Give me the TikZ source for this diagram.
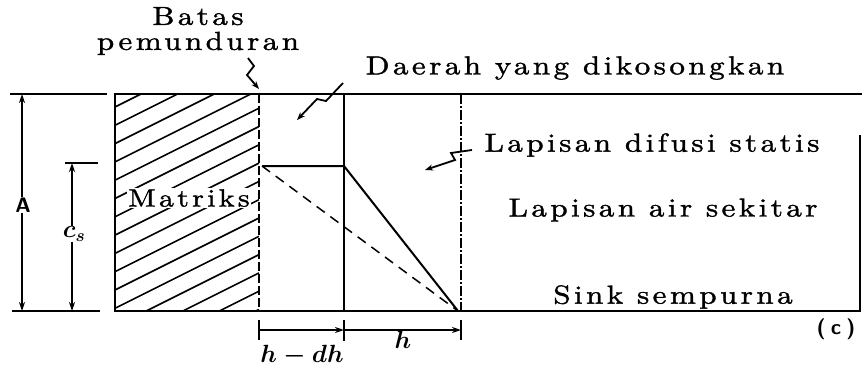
\documentclass[tikz,border=0pt]{standalone}
\usepackage{amsmath}
\usepackage{fontspec}
\newfontfamily\spacedfont{lmroman10-regular}[Extension=.otf,LetterSpace=13,FakeBold=1.3,FakeStretch=1.2]
\newfontfamily\scalesans{lmsans10-bold}[Extension=.otf,LetterSpace=25]
\usetikzlibrary{arrows.meta}
\begin{document}
\begin{tikzpicture}[x=1pt,y=-1pt,line width=2pt,
	lbl/.style={font=\fontsize{26}{25}\spacedfont,inner sep=1pt},
	dimlbl/.style={font=\fontsize{21}{23}\scalesans,fill=white,inner sep=1pt},
	mathlbl/.style={font=\fontsize{23}{25}\selectfont,inner sep=1pt},
	hatch/.style={line width=1.6pt},
	squig/.style={line width=1.8pt,-{Stealth[length=8pt,width=6pt]}},
	dim/.style={line width=1.8pt,{Stealth[length=9pt,width=6pt]}-{Stealth[length=9pt,width=6pt]}}]
	\useasboundingbox(0,0)rectangle(862,368);
	% hatched matrix
	\begin{scope}
		\clip(115,94)rectangle(259,311);
		\foreach \k in {0,...,15}
			\draw[hatch](115,107+18.3*\k)--++(144,-72);
	\end{scope}
	\draw(259,94)--(115,94)--(115,311)--(259,311);
	\draw[dash pattern=on 9pt off 3pt](259,94)--(259,311);
	% layers
	\draw(259,94)--(862,94);
	\draw(259,311)--(860,311)--(860,135);
	\draw(344,94)--(344,311);
	\draw[dash pattern=on 10pt off 2pt on 2pt off 2pt](461,94)--(461,311);
	% concentration profile
	\coordinate(top)at(262,166);
	\coordinate(knee)at(344,166);
	\coordinate(sink)at(458,311);
	\draw(top)--(knee)--(sink);
	\draw[line width=1.5pt,dash pattern=on 10pt off 7pt](top)--(sink);
	\node[lbl,fill=white,font=\fontsize{25}{25}\spacedfont](mat)at(189,198){Matriks};
	% left scales
	\draw(10,94)--(107,94);
	\draw(12,311)--(100,311);
	\draw(65,163)--(98,163);
	\draw[dim](22,94)--(22,311);
	\draw[dim](72,163)--(72,311);
	\node[dimlbl](A)at(23,205){A};
	\node[mathlbl,font=\fontsize{25}{27}\selectfont,fill=white](cs)at(74,234){$\boldsymbol{c_s}$};
	% bottom scale
	\draw[line width=1.8pt](259,320)--(259,340) (344,320)--(344,341) (461,320)--(461,340);
	\draw[line width=1.8pt,-{Stealth[length=9pt,width=6pt]}](259,330)--(344,330);
	\draw[line width=1.8pt,-{Stealth[length=9pt,width=6pt]}](344,330)--(461,330);
	\node[mathlbl](hdh)at(302,356){$\boldsymbol{h - dh}$};
	\node[mathlbl](h)at(403,340){$\boldsymbol{h}$};
	\node[dimlbl,fill=none](c)at(836,329){(c)};
	% labels
	\node[lbl,align=center](batas)at(198,31){Batas\\pemunduran};
	\node[lbl](daerah)at(575,68){Daerah yang dikosongkan};
	\node[lbl](dif)at(652,145){Lapisan difusi statis};
	\node[lbl](air)at(663,210){Lapisan air sekitar};
	\node[lbl](sinklbl)at(673,297){Sink sempurna};
	% squiggle arrows
	\coordinate(b0)at(248,58);
	\coordinate(b1)at(259,89);
	\draw[squig](b0)--(254,66)--(247,75)--(b1);
	\coordinate(d0)at(343,83);
	\coordinate(d1)at(297,120);
	\draw[squig](d0)--(326,101)--(317,99)--(d1);
	\coordinate(s0)at(472,150);
	\coordinate(s1)at(425,170);
	\draw[squig](s0)--(451,153)--(455,160)--(s1);
\end{tikzpicture}
\end{document}
